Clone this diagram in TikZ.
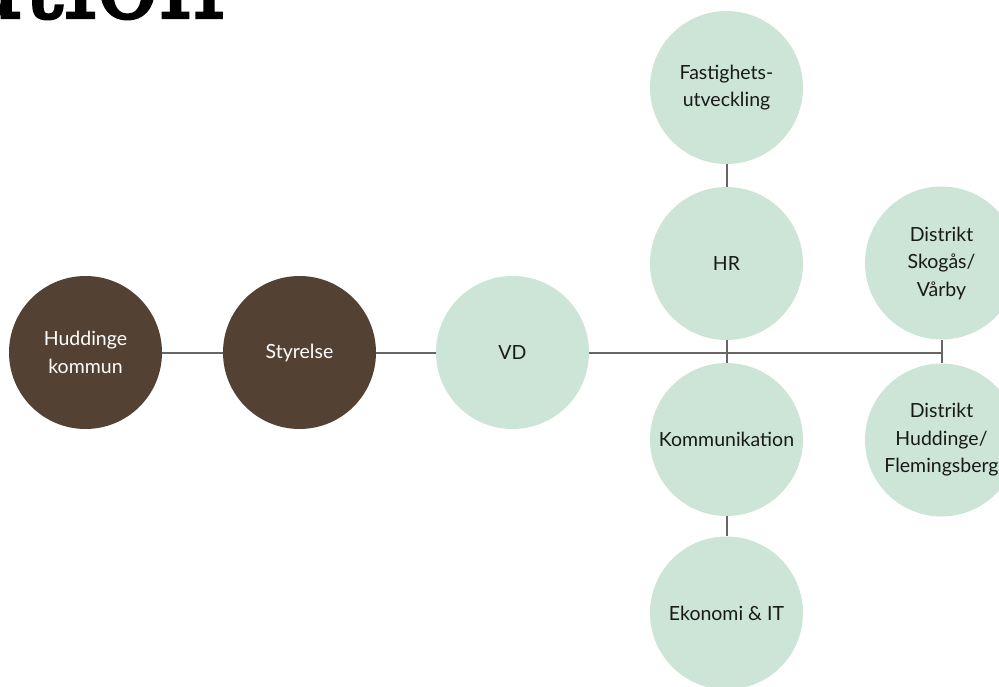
\documentclass[tikz,border=0pt]{standalone}
\usepackage{fontspec}
\setmainfont{Lato}
\newfontfamily\titlefont[FakeBold=2]{DejaVu Serif}
\definecolor{brownc}{HTML}{534233}
\definecolor{greenc}{HTML}{CCE5D7}
\definecolor{linec}{HTML}{666666}
\begin{document}
\begin{tikzpicture}[x=1pt,y=-1pt,
  circ/.style={circle,minimum size=153pt,inner sep=0pt,align=center,font=\fontsize{19.5}{27.5}\selectfont},
  dark/.style={circ,fill=brownc,text=white},
  light/.style={circ,fill=greenc,text=black!90},
  conn/.style={draw=linec,line width=2pt}]
\useasboundingbox (0,0) rectangle (999,687);
\node[anchor=base east,inner sep=0pt,font=\titlefont\fontsize{103}{103}\selectfont] (title) at (225,18) {Organisation};
\node[dark] (hk) at (85.5,352.5) {Huddinge\\kommun};
\node[dark] (sty) at (299.5,352.5) {Styrelse};
\node[light] (vd) at (512.5,352.5) {VD};
\node[light] (fast) at (726.5,87.5) {Fastighets-\\utveckling};
\node[light] (hr) at (726.5,263.5) {HR};
\node[light] (kom) at (726.5,439.5) {Kommunikation};
\node[light] (eko) at (726.5,613) {Ekonomi \& IT};
\node[light] (sk) at (941.5,263) {Distrikt\\Skogås/\\Vårby};
\node[light] (hf) at (941.5,440) {Distrikt\\Huddinge/\\Flemingsberg};
\coordinate (j2) at (941.5,352.5);
\draw[conn] (hk) -- (sty);
\draw[conn] (sty) -- (vd);
\draw[conn] (vd) -- (j2);
\draw[conn] (fast) -- (hr);
\draw[conn] (hr) -- (kom);
\draw[conn] (kom) -- (eko);
\draw[conn] (sk) -- (hf);
\end{tikzpicture}
\end{document}
